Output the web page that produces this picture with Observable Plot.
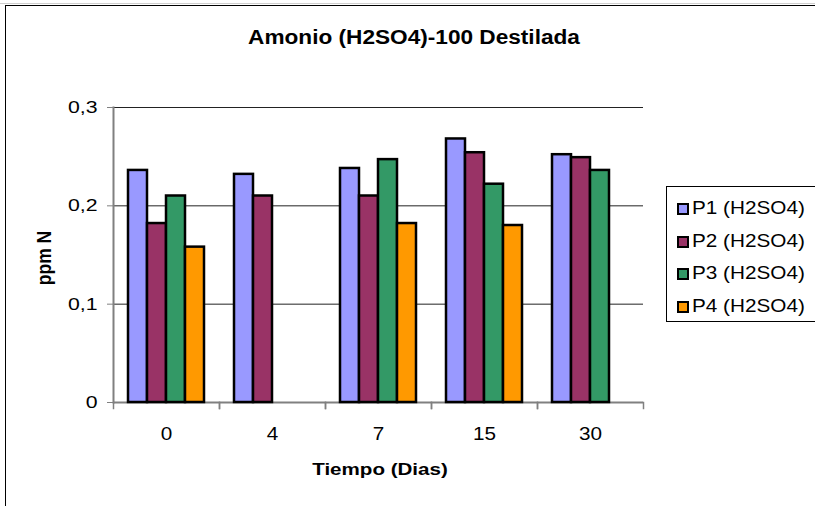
<!DOCTYPE html>
<html>
<head>
<meta charset="utf-8">
<script src="https://cdn.jsdelivr.net/npm/d3@7"></script>
<script src="https://cdn.jsdelivr.net/npm/@observablehq/plot@0.6"></script>
<style>
  body { margin: 0; background: #fff; }
  #chart {
    position: relative; width: 815px; height: 506px; overflow: hidden;
    background: #fff; color: #000;
    font-family: "Liberation Sans", Arial, sans-serif;
  }
  #chart svg { position: absolute; left: 0; top: 0; }
  .edge-top { position: absolute; left: 0; top: 3px; width: 815px; height: 1px; background: #cfcfcf; }
  .frame { position: absolute; left: 5px; top: 5px; width: 900px; height: 600px;
           border-left: 1.5px solid #000; border-top: 1.5px solid #000; }
  .title, .xlabel, .ylabel { position: absolute; font-weight: bold; white-space: nowrap; line-height: 1; }
  .title { left: 414px; top: 27.5px; font-size: 19.5px; transform: translateX(-50%) scaleX(1.16); }
  .xlabel { left: 380px; top: 460.6px; font-size: 17px; transform: translateX(-50%) scaleX(1.21); }
  .ylabel { left: 44.5px; top: 258px; font-size: 17.5px; transform: translate(-50%, -50%) rotate(-90deg) scaleY(1.12); }
  .legend { position: absolute; left: 666px; top: 186px; width: 160px; height: 134px;
            border: 1px solid #000; background: #fff; }
  .legend .item { position: absolute; left: 0; height: 20px; width: 160px; }
  .legend .sw { position: absolute; left: 10px; top: 4px; width: 8px; height: 8px; border: 2px solid #000; }
  .legend .lab { position: absolute; left: 25px; top: 0; font-size: 18.5px; line-height: 1;
                 white-space: nowrap; transform-origin: 0 50%; transform: scaleX(1.12); }
</style>
</head>
<body>
<div id="chart">
  <div class="edge-top"></div>
  <div class="frame"></div>
</div>
<script>
// Sampling days (x categories) and the four series
const days = ["0", "4", "7", "15", "30"];
const seriesNames = ["P1 (H2SO4)", "P2 (H2SO4)", "P3 (H2SO4)", "P4 (H2SO4)"];
const seriesColors = ["#9999ff", "#993366", "#339966", "#ff9900"];

// ppm N per day; null = no measurement
const p1 = [0.236, 0.232, 0.238, 0.268, 0.252];
const p2 = [0.182, 0.210, 0.210, 0.254, 0.249];
const p3 = [0.210, null, 0.247, 0.222, 0.236];
const p4 = [0.158, null, 0.182, 0.180, null];

const yTicks = [0, 0.1, 0.2, 0.3];
const yTickLabels = ["0", "0,1", "0,2", "0,3"];

const titleText = "Amonio (H2SO4)-100 Destilada";
const xTitle = "Tiempo (Dias)";
const yTitle = "ppm N";

const rows = [];
[p1, p2, p3, p4].forEach((vals, i) =>
  vals.forEach((v, j) => {
    if (v != null) rows.push({ day: days[j], series: seriesNames[i], value: v });
  })
);

const gray = "#808080";

const plot = Plot.plot({
  width: 815,
  height: 506,
  marginLeft: 113,
  marginRight: 172,
  marginTop: 107,
  marginBottom: 104,
  style: { fontFamily: "'Liberation Sans', Arial, sans-serif", fontSize: "17px", background: "transparent", overflow: "visible", color: "#000" },
  fx: { domain: days, padding: 0, axis: null },
  x: { domain: seriesNames, paddingInner: 0, paddingOuter: 0.705, axis: null },
  y: { domain: [0, 0.3], axis: null },
  color: { domain: seriesNames, range: seriesColors },
  marks: [
    Plot.ruleY(yTicks.filter(d => d > 0), { stroke: "#222", strokeWidth: 1 }),
    Plot.ruleY([0], { stroke: gray, strokeWidth: 2 }),
    Plot.barY(rows, { fx: "day", x: "series", y: "value", fill: "series", stroke: "#000", strokeWidth: 2.5 }),
    // y axis line, leftmost panel only
    Plot.frame({ anchor: "left", stroke: gray, strokeWidth: 2, facetAnchor: "left" }),
    // category boundary ticks under the baseline
    Plot.frame({ anchor: "left", stroke: gray, strokeWidth: 1.5, insetTop: 295, insetBottom: -6 }),
    Plot.frame({ anchor: "right", stroke: gray, strokeWidth: 1.5, insetTop: 295, insetBottom: -6 }),
    Plot.axisY({ ticks: yTicks, tickFormat: d => yTickLabels[yTicks.indexOf(d)], tickSize: 6, tickPadding: 10, stroke: gray, fontSize: 17, label: null }),
    Plot.axisFx({ anchor: "bottom", tickSize: 0, tickPadding: 25, fontSize: 18, label: null })
  ]
});

const chart = document.getElementById("chart");
chart.appendChild(plot);

// widen tick labels horizontally
plot.querySelectorAll("text").forEach(t => {
  const g = t.closest("g[aria-label]");
  const lab = g ? g.getAttribute("aria-label") : "";
  const k = lab.startsWith("y") ? 1.25 : 1.15;
  const len = t.getComputedTextLength();
  if (len > 0) {
    t.setAttribute("textLength", (len * k).toFixed(2));
    t.setAttribute("lengthAdjust", "spacingAndGlyphs");
  }
});

function addDiv(cls, text) {
  const d = document.createElement("div");
  d.className = cls;
  d.textContent = text;
  chart.appendChild(d);
  return d;
}
addDiv("title", titleText);
addDiv("xlabel", xTitle);
addDiv("ylabel", yTitle);

const legend = document.createElement("div");
legend.className = "legend";
seriesNames.forEach((name, i) => {
  const item = document.createElement("div");
  item.className = "item";
  item.style.top = (12 + i * 32.5) + "px";
  const sw = document.createElement("div");
  sw.className = "sw";
  sw.style.background = seriesColors[i];
  const lab = document.createElement("div");
  lab.className = "lab";
  lab.textContent = name;
  item.appendChild(sw);
  item.appendChild(lab);
  legend.appendChild(item);
});
chart.appendChild(legend);
</script>
</body>
</html>
